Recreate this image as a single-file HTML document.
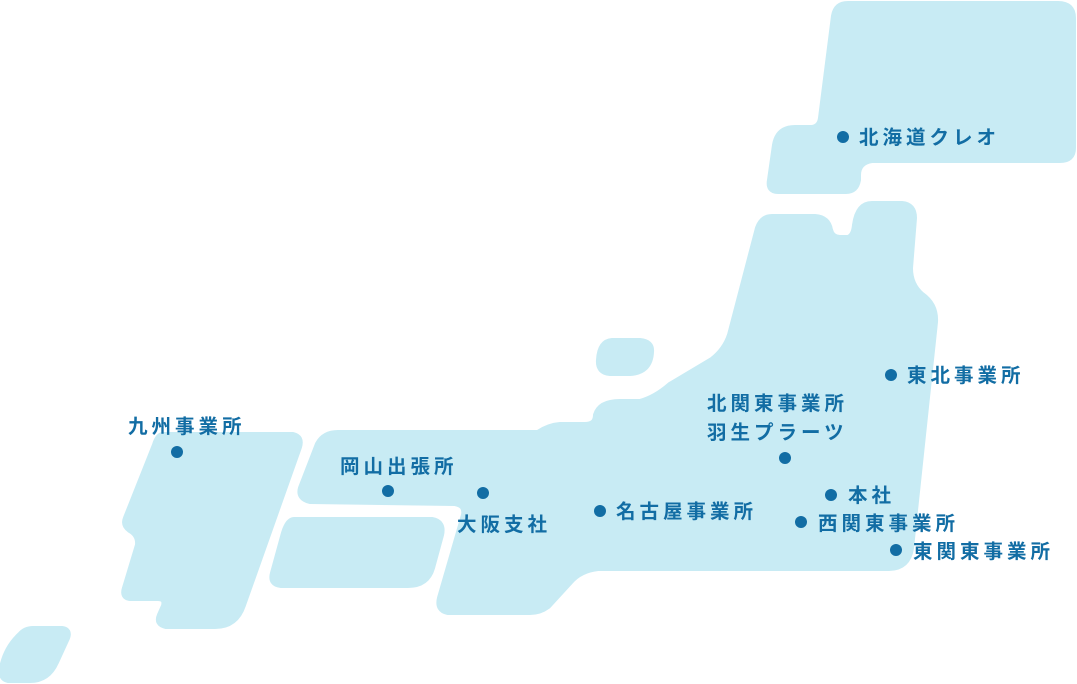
<!DOCTYPE html>
<html><head><meta charset="utf-8"><style>
html,body{margin:0;padding:0;background:#fff;}
svg{display:block}
text{font-family:"Liberation Sans","Noto Sans CJK JP",sans-serif;font-weight:bold;font-size:19.5px;letter-spacing:4px;fill:#126da4}
</style></head><body>
<svg width="1077" height="684" viewBox="0 0 1077 684" xmlns="http://www.w3.org/2000/svg">
<g fill="#c8ebf4" stroke="#c8ebf4" stroke-width="6" stroke-linejoin="round">
<path d="M848,4 L1058,4 Q1073,4 1073,18 L1073,148 Q1073,160 1060,160 L872,160 Q858,162 858,175 L858,180 Q856,191 846,191 L778,191 Q768,191 770,180 L775,145 Q778,128 795,128 L812,128 Q820,127 821,118 L834,16 Q836,4 848,4Z"/>
<path d="M772,217 L815,217 Q828,218 830,230 Q832,238 840,238 L848,238 Q854,236 855,225 Q858,204 872,204 L902,204 Q914,205 914,218 L910,268 Q910,285 922,295 Q936,305 935,322 L911,548 Q908,568 888,568 L598,568 Q580,570 570,582 L548,606 Q540,612 530,612 L448,612 Q437,610 440,598 L464,515 Q466,505 455,503 L310,501 Q298,498 301,488 L318,444 Q324,433 338,433 L538,433 Q548,426 560,425 L585,425 Q596,425 596,415 Q600,402 620,402 L640,402 Q655,398 670,385 L712,360 Q725,350 730,335 L758,228 Q762,217 772,217Z"/>
<path d="M163,435 L293,435 Q302,437 299,447 L243,605 Q236,626 215,626 L166,626 Q156,624 160,615 L164,606 Q166,598 158,598 L130,598 Q122,597 125,588 L138,545 Q139,535 130,530 Q123,525 126,518 L155,445 Q158,435 163,435Z"/>
<path d="M294,520 L432,520 Q444,522 441,535 L432,568 Q427,585 408,585 L281,585 Q270,584 273,573 L284,533 Q288,520 294,520Z"/>
<path d="M33,629 L62,629 Q70,630 67,638 L56,662 Q48,680 30,680 L8,680 Q0,678 2,668 Q6,648 20,635 Q25,629 33,629Z"/>
<path d="M612,341 L640,341 Q652,342 651,352 Q650,372 630,373 L610,373 Q598,372 599,360 Q600,342 612,341Z"/>
</g>
<g fill="#126da4">
<circle cx="843" cy="137" r="6"/>
<circle cx="891" cy="375" r="6"/>
<circle cx="785" cy="458" r="6"/>
<circle cx="831" cy="495" r="6"/>
<circle cx="801" cy="522" r="6"/>
<circle cx="896" cy="550" r="6"/>
<circle cx="600" cy="511" r="6"/>
<circle cx="483" cy="493" r="6"/>
<circle cx="388" cy="491" r="6"/>
<circle cx="177" cy="452" r="6"/>
</g>
<text x="859" y="144">北海道クレオ</text>
<text x="907" y="382">東北事業所</text>
<text x="707" y="410">北関東事業所</text>
<text x="707" y="439">羽生プラーツ</text>
<text x="848" y="502">本社</text>
<text x="818" y="530">西関東事業所</text>
<text x="913" y="558">東関東事業所</text>
<text x="616" y="518">名古屋事業所</text>
<text x="457" y="531">大阪支社</text>
<text x="340" y="473">岡山出張所</text>
<text x="128" y="433">九州事業所</text>
</svg>
</body></html>
